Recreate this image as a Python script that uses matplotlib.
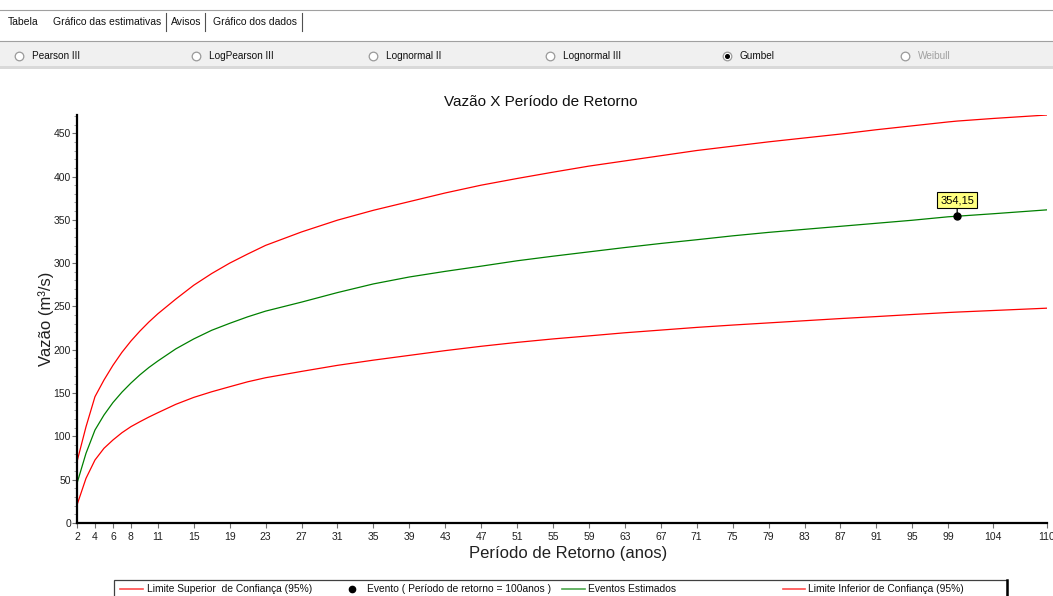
import matplotlib
matplotlib.use('Agg')
import matplotlib.pyplot as plt
from matplotlib.lines import Line2D
from matplotlib.patches import Rectangle
from matplotlib.ticker import FixedLocator, MultipleLocator

plt.rcParams['font.family'] = ['Liberation Sans', 'DejaVu Sans']

W, H = 1053, 596

# Período de retorno (anos) e vazões (m³/s) - Gumbel
periodo = [2, 3, 4, 5, 6, 7, 8, 9, 10, 11, 13, 15, 17, 19, 21, 23, 27, 31, 35,
           39, 43, 47, 51, 55, 59, 63, 67, 71, 75, 79, 83, 87, 91, 95, 99, 100,
           104, 110]
lim_sup = [70.8, 111.0, 145.8, 165.0, 182.0, 197.0, 210.0, 221.5, 232.0, 241.5,
           258.5, 274.5, 288.0, 300.0, 310.5, 320.5, 336.0, 349.6, 361.0,
           371.0, 381.0, 390.0, 397.7, 405.0, 412.0, 418.0, 424.0, 430.0,
           435.0, 440.0, 444.5, 449.0, 454.0, 458.5, 463.0, 464.0, 467.0, 471.0]
vazao_est = [45.8, 80.4, 107.3, 124.6, 139.0, 151.0, 161.5, 171.0, 179.5, 187.0,
             201.0, 212.5, 222.5, 230.5, 238.0, 244.6, 255.0, 266.0, 276.0,
             284.0, 290.5, 296.5, 302.7, 308.0, 313.0, 318.0, 322.7, 327.0,
             331.5, 335.5, 339.0, 342.5, 346.0, 349.5, 353.5, 354.15, 357.0,
             361.5]
lim_inf = [20.8, 51.5, 72.7, 86.2, 95.8, 104.2, 111.2, 116.9, 122.3, 127.3,
           137.0, 145.0, 151.5, 157.3, 163.0, 167.7, 175.0, 182.0, 188.0,
           193.5, 199.0, 204.0, 208.5, 212.5, 216.0, 219.6, 222.7, 225.8,
           228.5, 231.0, 233.5, 236.0, 238.3, 240.7, 243.0, 243.5, 245.3, 248.0]

evento_T = 100
evento_Q = 354.15

xticks = [2, 4, 6, 8, 11, 15, 19, 23, 27, 31, 35, 39, 43, 47, 51, 55, 59, 63,
          67, 71, 75, 79, 83, 87, 91, 95, 99, 104, 110]

abas = ['Tabela', 'Gráfico das estimativas', 'Avisos', 'Gráfico dos dados']
distribuicoes = ['Pearson III', 'LogPearson III', 'Lognormal II',
                 'Lognormal III', 'Gumbel', 'Weibull']
selecionada = 'Gumbel'
desabilitada = 'Weibull'

legenda = ['Limite Superior  de Confiança (95%)',
           'Evento ( Período de retorno = 100anos )',
           'Eventos Estimados',
           'Limite Inferior de Confiança (95%)']


def fx(px):
    return px / W


def fy(py):
    return 1 - py / H


fig = plt.figure(figsize=(W / 100, H / 100), dpi=100)
fig.patch.set_facecolor('white')

# --- barra de abas ---
fig.add_artist(Line2D([0, 1], [fy(9.5), fy(9.5)], color='#a0a0a0', lw=0.8,
                      transform=fig.transFigure))
tab_x = [8, 53, 171, 213]
sep_x = [166, 205, 302]
for nome, x in zip(abas, tab_x):
    fig.text(fx(x), fy(22), nome, fontsize=7.5, color='#101010',
             ha='left', va='center')
for x in sep_x:
    fig.add_artist(Line2D([fx(x), fx(x)], [fy(13), fy(31)], color='#505050',
                          lw=0.8, transform=fig.transFigure))

# --- painel das distribuições ---
fig.add_artist(Rectangle((0, fy(66)), 1, fy(41) - fy(66), facecolor='#f0f0f0',
                         edgecolor='none', transform=fig.transFigure, zorder=0))
fig.add_artist(Rectangle((0, fy(69)), 1, fy(66) - fy(69), facecolor='#d9d9d9',
                         edgecolor='none', transform=fig.transFigure, zorder=0))
fig.add_artist(Line2D([0, 1], [fy(41), fy(41)], color='#a0a0a0', lw=0.8,
                      transform=fig.transFigure))
radio_x = [19, 196, 373, 550, 727, 905]
for nome, x in zip(distribuicoes, radio_x):
    cor = '#a0a0a0' if nome == desabilitada else '#101010'
    fig.add_artist(Line2D([fx(x)], [fy(56)], marker='o', ms=6.2,
                          mfc='white', mec='#9a9a9a', mew=0.9,
                          transform=fig.transFigure))
    if nome == selecionada:
        fig.add_artist(Line2D([fx(x)], [fy(56)], marker='o', ms=2.6,
                              mfc='black', mec='black',
                              transform=fig.transFigure))
    fig.text(fx(x + 13), fy(56), nome, fontsize=7.2, color=cor,
             ha='left', va='center')

# --- gráfico ---
ax = fig.add_axes([fx(77), fy(523), fx(1047) - fx(77), fy(115) - fy(523)])
ax.plot(periodo, lim_sup, color='#ff0000', lw=0.9)
ax.plot(periodo, vazao_est, color='#008000', lw=0.9)
ax.plot(periodo, lim_inf, color='#ff0000', lw=0.9)
ax.plot([evento_T], [evento_Q], 'o', color='black', ms=5, zorder=5)
ax.annotate(f'{evento_Q:.2f}'.replace('.', ','), xy=(evento_T, evento_Q),
            xytext=(0, 8), textcoords='offset points', ha='center',
            va='bottom', fontsize=8,
            bbox=dict(boxstyle='square,pad=0.3', fc='#ffff80', ec='black',
                      lw=0.8),
            arrowprops=dict(arrowstyle='-', color='black', lw=0.9,
                            shrinkA=0, shrinkB=0))

ax.set_xlim(2, 110)
ax.set_ylim(0, max(lim_sup))
ax.xaxis.set_major_locator(FixedLocator(xticks))
ax.yaxis.set_major_locator(MultipleLocator(50))
ax.yaxis.set_minor_locator(MultipleLocator(10))
for s in ['top', 'right']:
    ax.spines[s].set_visible(False)
for s in ['left', 'bottom']:
    ax.spines[s].set_linewidth(1.6)
    ax.spines[s].set_color('black')
ax.tick_params(which='major', length=3.5, width=0.8, color='#707070',
               labelsize=7.5, labelcolor='#202020', pad=0.8)
ax.tick_params(axis='x', which='major', pad=3)
ax.tick_params(which='minor', length=2.5, width=0.6, color='#909090')

ax.set_xlabel('Período de Retorno (anos)', fontsize=12, color='#202020')
ax.xaxis.set_label_coords(0.506, -0.056)
ax.set_ylabel('Vazão (m³/s)', fontsize=12, color='#202020')
ax.yaxis.set_label_coords(-0.0235, 0.5)
fig.text(fx(541), fy(102), 'Vazão X Período de Retorno', fontsize=11,
         color='#101010', ha='center', va='center')

# --- legenda ---
fig.add_artist(Rectangle((fx(114), -0.05), fx(1007) - fx(114), fy(580) + 0.05,
                         facecolor='white', edgecolor='#404040', lw=0.9,
                         transform=fig.transFigure))
fig.add_artist(Line2D([fx(1007), fx(1007)], [0, fy(580)], color='black',
                      lw=1.8, transform=fig.transFigure))
ly = fy(589)
itens = [('line', '#ff0000', 120, 143, 147),
         ('dot', 'black', 352, 352, 367),
         ('line', '#008000', 562, 585, 588),
         ('line', '#ff0000', 783, 805, 808)]
for (tipo, cor, x0, x1, xt), rotulo in zip(itens, legenda):
    if tipo == 'line':
        fig.add_artist(Line2D([fx(x0), fx(x1)], [ly, ly], color=cor, lw=1.2,
                              alpha=0.7, transform=fig.transFigure))
    else:
        fig.add_artist(Line2D([fx(x0)], [ly], marker='o', ms=4.5, color=cor,
                              transform=fig.transFigure))
    fig.text(fx(xt), ly, rotulo, fontsize=7.4, color='#101010',
             ha='left', va='center')

fig.savefig('out.png', dpi=100)
